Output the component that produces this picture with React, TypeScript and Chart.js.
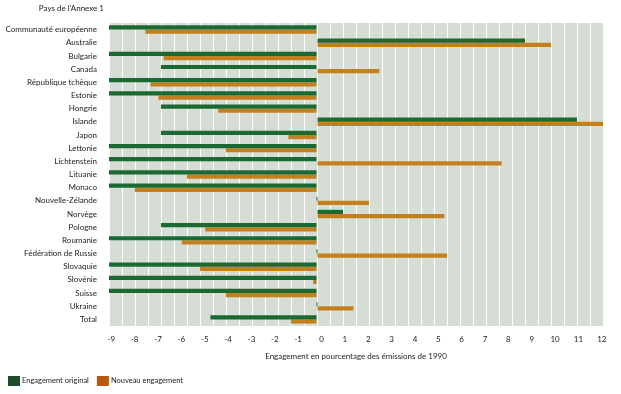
import React, { useEffect, useRef } from "react";
import { Chart, registerables } from "chart.js";

Chart.register(...registerables);

const countries = [
  "Communauté européenne",
  "Australie",
  "Bulgarie",
  "Canada",
  "République tchèque",
  "Estonie",
  "Hongrie",
  "Islande",
  "Japon",
  "Lettonie",
  "Lichtenstein",
  "Lituanie",
  "Monaco",
  "Nouvelle-Zélande",
  "Norvège",
  "Pologne",
  "Roumanie",
  "Fédération de Russie",
  "Slovaquie",
  "Slovénie",
  "Suisse",
  "Ukraine",
  "Total",
];

const originalCommitment = [
  -8, 8, -8, -6, -8, -8, -6, 10, -6, -8, -8, -8, -8, 0, 1, -6, -8, 0, -8, -8, -8, 0, -4.1,
];

const newCommitment = [
  -6.6, 9.0, -5.9, 2.4, -6.4, -6.1, -3.8, 11.0, -1.1, -3.5, 7.1, -5.0, -7.0, 2.0, 4.9, -4.3, -5.2, 5.0,
  -4.5, -0.15, -3.5, 1.4, -1.0,
];

const axisTickLabels = [-9, -8, -7, -6, -5, -4, -3, -2, -1, 0, 1, 2, 3, 4, 5, 6, 7, 8, 9, 10, 11, 12];

const seriesNames = ["Engagement original", "Nouveau engagement"];
const yTitle = "Pays de l'Annexe 1";
const xTitle = "Engagement en pourcentage des émissions de 1990";

const FONT_FAMILY = "Lato, 'Noto Sans', sans-serif";
const TEXT_COLOR = "#222";
const GREEN = "#1b6a33";
const ORANGE = "#c4801e";
const LEGEND_GREEN = "#1f4d2a";
const LEGEND_ORANGE = "#b9560f";

export default function App() {
  const ref = useRef<HTMLCanvasElement>(null);

  useEffect(() => {
    const canvas = ref.current;
    if (!canvas) return;

    const plotBg = {
      id: "plotBg",
      beforeDraw(chart: any) {
        const { ctx, chartArea } = chart;
        ctx.save();
        ctx.fillStyle = "#d5ddd5";
        ctx.fillRect(chartArea.left, chartArea.top, chartArea.right - chartArea.left, chartArea.bottom - chartArea.top);
        ctx.restore();
      },
    };

    const extras = {
      id: "extras",
      afterDraw(chart: any) {
        const { ctx } = chart;
        ctx.save();
        ctx.font = `8px ${FONT_FAMILY}`;
        ctx.fillStyle = TEXT_COLOR;
        ctx.textBaseline = "middle";
        ctx.textAlign = "right";
        ctx.fillText(yTitle, 104, 8);

        // legend
        ctx.font = `7.5px ${FONT_FAMILY}`;
        ctx.textAlign = "left";
        const yc = 381;
        let x = 8;
        const colors = [LEGEND_GREEN, LEGEND_ORANGE];
        seriesNames.forEach((name, i) => {
          ctx.fillStyle = colors[i];
          ctx.fillRect(x, yc - 5, 12, 10);
          ctx.fillStyle = TEXT_COLOR;
          ctx.fillText(name, x + 14, yc);
          x += 14 + ctx.measureText(name).width + 8;
        });
        ctx.restore();
      },
    };

    const chart = new Chart(canvas, {
      type: "bar",
      data: {
        labels: countries,
        datasets: [
          {
            label: seriesNames[0],
            data: originalCommitment,
            backgroundColor: GREEN,
            minBarLength: 1,
            xAxisID: "x",
          },
          {
            label: seriesNames[1],
            data: newCommitment,
            backgroundColor: ORANGE,
            xAxisID: "x",
          },
        ],
      },
      options: {
        indexAxis: "y",
        responsive: false,
        animation: false,
        layout: { padding: { left: 0, right: 18, top: 23, bottom: 22 } },
        datasets: { bar: { categoryPercentage: 0.64, barPercentage: 1 } },
        scales: {
          y: {
            grid: { display: false },
            border: { display: false },
            ticks: {
              autoSkip: false,
              padding: 4,
              color: TEXT_COLOR,
              font: { family: FONT_FAMILY, size: 8 },
            },
            afterFit: (s: any) => {
              s.width = 109;
            },
          },
          x: {
            type: "linear",
            position: "bottom",
            min: -8,
            max: 11,
            ticks: { display: false, stepSize: 0.5 },
            grid: { color: "#ffffff", lineWidth: 1, drawTicks: false },
            border: { display: false },
            afterFit: (s: any) => {
              s.height = 0;
            },
          },
          x2: {
            type: "linear",
            position: "bottom",
            min: -9.1,
            max: 12.05,
            grid: { display: false },
            border: { display: false },
            afterBuildTicks: (s: any) => {
              s.ticks = axisTickLabels.map((v) => ({ value: v }));
            },
            ticks: {
              padding: 1,
              color: TEXT_COLOR,
              maxRotation: 0,
              autoSkip: false,
              font: { family: FONT_FAMILY, size: 8 },
            },
            title: {
              display: true,
              text: xTitle,
              color: TEXT_COLOR,
              font: { family: FONT_FAMILY, size: 8 },
              padding: { top: 0, bottom: 11 },
            },
            afterFit: (s: any) => {
              s.height = 46;
            },
          },
        },
        plugins: {
          legend: { display: false },
          tooltip: { enabled: false },
        },
      },
      plugins: [plotBg, extras],
    } as any);

    return () => chart.destroy();
  }, []);

  return (
    <div style={{ position: "fixed", left: 0, top: 0, width: 621, height: 394, background: "#fff" }}>
      <canvas ref={ref} width={621} height={394} style={{ display: "block" }} />
    </div>
  );
}
